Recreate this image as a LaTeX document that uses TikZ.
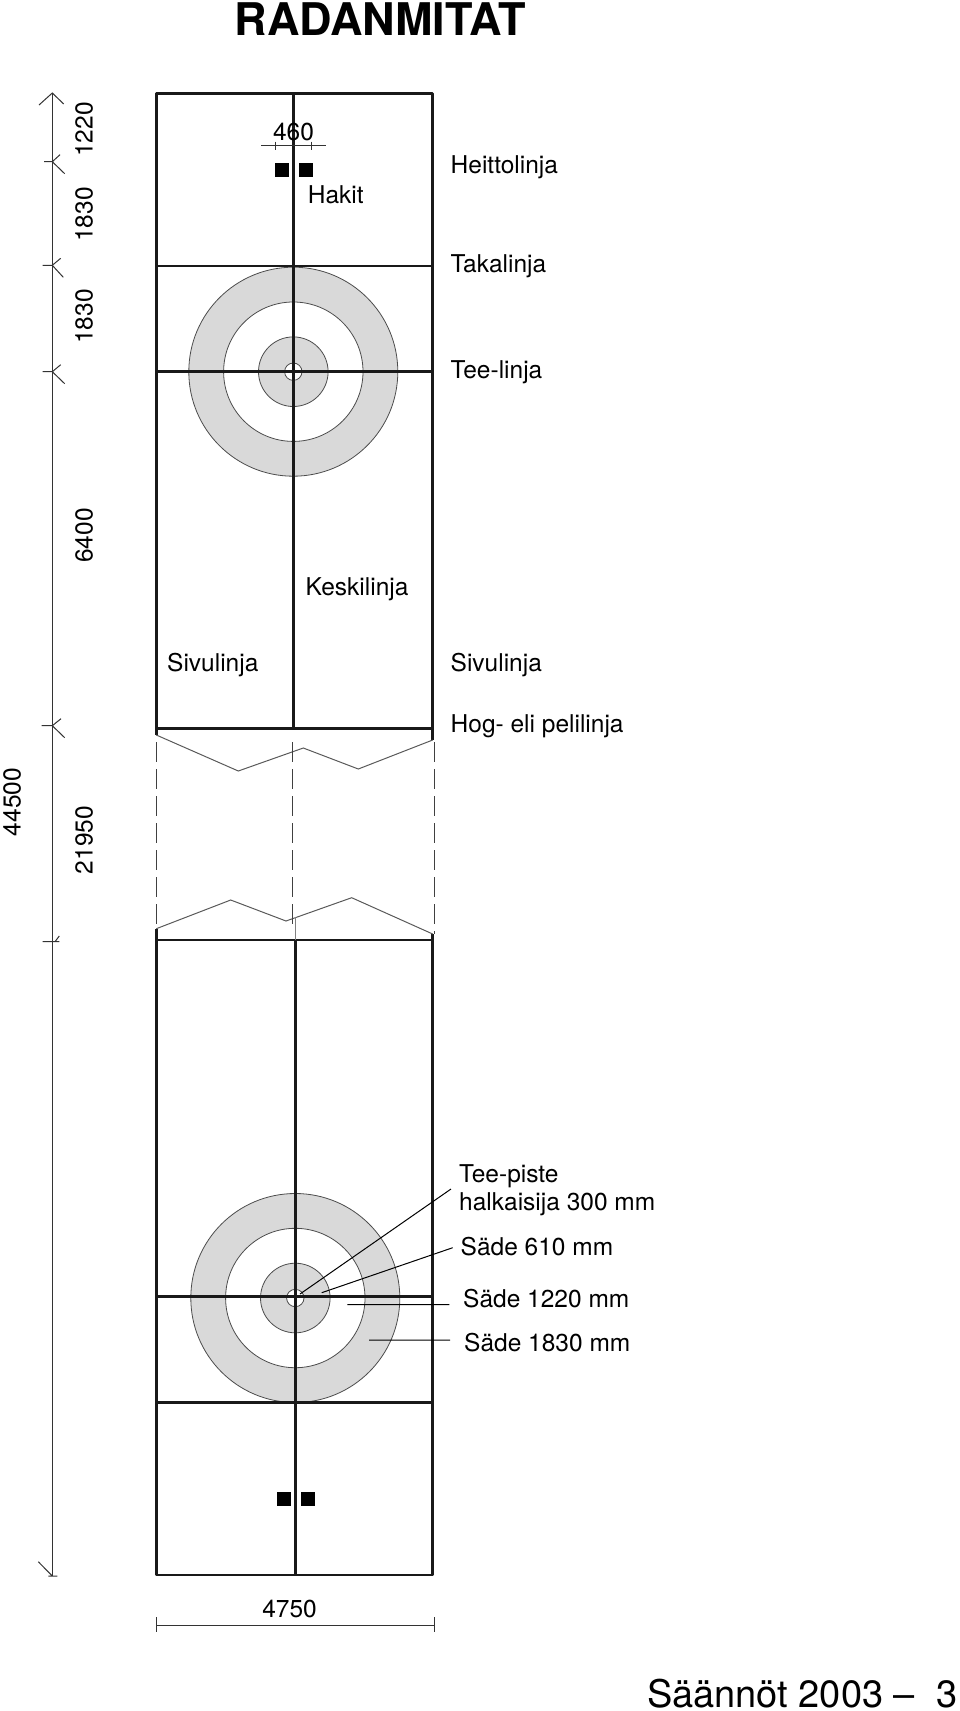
\documentclass[tikz,border=0pt]{standalone}
\usepackage{fontspec}
\setmainfont{TeX Gyre Heros}
\tikzset{
 thickl/.style={line width=2.7pt,black!90},
 thinl/.style={line width=1pt,black!80},
 ring/.style={draw=black!70,line width=.8pt},
 dashl/.style={line width=1pt,black!75,dash pattern=on 20pt off 7pt},
 lab/.style={anchor=base west,inner sep=0pt,font=\fontsize{24.5}{27}\selectfont},
 labc/.style={anchor=base,inner sep=0pt,font=\fontsize{24.5}{27}\selectfont},
 rot/.style={rotate=90,inner sep=0pt,font=\fontsize{24.5}{27}\selectfont},
 peg/.style={fill=black,draw=none,minimum size=14pt,inner sep=0pt}
}
\newcommand{\dimtick}[4]{\draw[thinl] (#1,-#2)--(52.3,-#2) (#3,-#2+7)--(52.3,-#2)--(#4,-#2-12);}
\begin{document}
\begin{tikzpicture}[x=1pt,y=1pt]
\useasboundingbox (0,0) rectangle (960,-1711);
% houses
\foreach \cx/\cy in {293.3/371.7,295.3/1298}{
 \fill[gray!30] (\cx,-\cy) circle (104.5);
 \draw[ring] (\cx,-\cy) circle (104.5);
 \fill[white] (\cx,-\cy) circle (69.7);
 \draw[ring] (\cx,-\cy) circle (69.7);
 \fill[gray!30] (\cx,-\cy) circle (34.8);
 \draw[ring] (\cx,-\cy) circle (34.8);
 \fill[white] (\cx,-\cy) circle (8.7);
 \draw[ring] (\cx,-\cy) circle (8.7);
}
\draw[thickl,line join=round] (156.3,-735)--(156.3,-93.3)--(432.7,-93.3)--(432.7,-740);
\draw[thickl] (156.3,-728.3)--(432.7,-728.3);
\draw[thickl] (293.3,-93.3)--(293.3,-728.3);
\draw[thickl] (156.3,-266)--(432.7,-266);
\draw[thickl] (156.3,-371.7)--(432.7,-371.7);
% bottom
\draw[thickl,line join=round] (156.7,-929)--(156.7,-1575)--(432.7,-1575)--(432.7,-934);
\draw[thickl] (156.7,-940)--(432.7,-940);
\draw[thickl] (295.5,-940)--(295.5,-1575);
\draw[thickl] (156.7,-1296.7)--(432.7,-1296.7);
\draw[thickl] (156.7,-1402.3)--(432.7,-1402.3);
% break
\draw[thinl,black!65] (156.3,-735)--(238.3,-771)--(303.3,-748)--(358.3,-769)--(432.7,-740);
\draw[thinl,black!65] (156.3,-928.7)--(230.7,-900)--(286,-921)--(351.7,-897.7)--(432.7,-934);
\draw[dashl] (156.5,-742)--(156.5,-930);
\draw[dashl] (292.7,-742)--(292.7,-928);
\draw[dashl] (434.3,-742)--(434.3,-934);
\draw[thinl,black!50] (295.5,-917)--(295.5,-940);
% pegs
\node[peg] (p1) at (281.5,-169.6) {};
\node[peg] (p2) at (305.5,-169.6) {};
\node[peg] (p3) at (283.8,-1499.3) {};
\node[peg] (p4) at (307.8,-1499.3) {};
% left dimension
\coordinate (dt) at (52.3,-93);
\coordinate (db) at (52.3,-1576);
\draw[thinl] (dt)--(db);
\draw[thinl] (39,-105)--(dt)--(63.7,-104);
\dimtick{44}{161.7}{60}{64.7}
\dimtick{42.7}{265.3}{60.7}{63.3}
\dimtick{42.7}{371.7}{60.7}{64.7}
\dimtick{41.7}{725.7}{61}{64.7}
\draw[thinl] (42.7,-941.7)--(59.3,-941.7) (55,-941.7)--(59.3,-936);
\draw[thinl] (48.3,-1576)--(57.3,-1576) (38.3,-1561.7)--(db);
% 460 dim
\draw[thinl,line width=.8pt] (261,-145.7)--(326,-145.7) (275.5,-141.5)--(275.5,-149.5) (311,-141.5)--(311,-149.5);
% 4750 dim
\draw[thinl] (156.7,-1625.3)--(434,-1625.3) (156.7,-1617)--(156.7,-1632) (434,-1617)--(434,-1632);
% leaders
\coordinate (l1a) at (300,-1294); \coordinate (l1b) at (451,-1189);
\coordinate (l2a) at (321.7,-1292.7); \coordinate (l2b) at (452.7,-1247.7);
\coordinate (l3a) at (347.3,-1304.7); \coordinate (l3b) at (449.3,-1304.7);
\coordinate (l4a) at (369,-1340); \coordinate (l4b) at (450,-1340);
\draw[thinl,black] (l1a)--(l1b) (l2a)--(l2b) (l3a)--(l3b) (l4a)--(l4b);
% text
\node[anchor=base,inner sep=0pt,font=\fontsize{45}{48}\bfseries\selectfont] (title) at (380,-35) {RADANMITAT};
\node[rot] (d1) at (84,-129.5) {1220};
\node[rot] (d2) at (84,-214.5) {1830};
\node[rot] (d3) at (84,-316.5) {1830};
\node[rot] (d4) at (84,-535.6) {6400};
\node[rot] (d5) at (84,-840) {21950};
\node[rot] (d6) at (12,-802) {44500};
\node[labc] (t460) at (293.5,-140) {460};
\node[lab] (hakit) at (307.7,-203) {Hakit};
\node[lab] (h) at (450.5,-173) {Heittolinja};
\node[lab] (t) at (450.5,-272.5) {Takalinja};
\node[lab] (tl) at (450.5,-378) {Tee-linja};
\node[lab] (k) at (305.5,-595) {Keskilinja};
\node[lab] (s1) at (167,-671) {Sivulinja};
\node[lab] (s2) at (450.5,-671) {Sivulinja};
\node[lab] (hog) at (450.5,-732) {Hog- eli pelilinja};
\node[lab] (tp) at (459,-1182.7) {Tee-piste};
\node[lab] (ha) at (459,-1210) {halkaisija 300 mm};
\node[lab] (s610) at (460.5,-1255) {Säde 610 mm};
\node[lab] (s1220) at (463,-1307.7) {Säde 1220 mm};
\node[lab] (s1830) at (464,-1351) {Säde 1830 mm};
\node[labc] (w) at (289.5,-1617) {4750};
\node[anchor=base east,inner sep=0pt,font=\fontsize{38}{41}\selectfont] (foot) at (957.5,-1707.5) {Säännöt 2003 –\ \ 3};
\end{tikzpicture}
\end{document}
